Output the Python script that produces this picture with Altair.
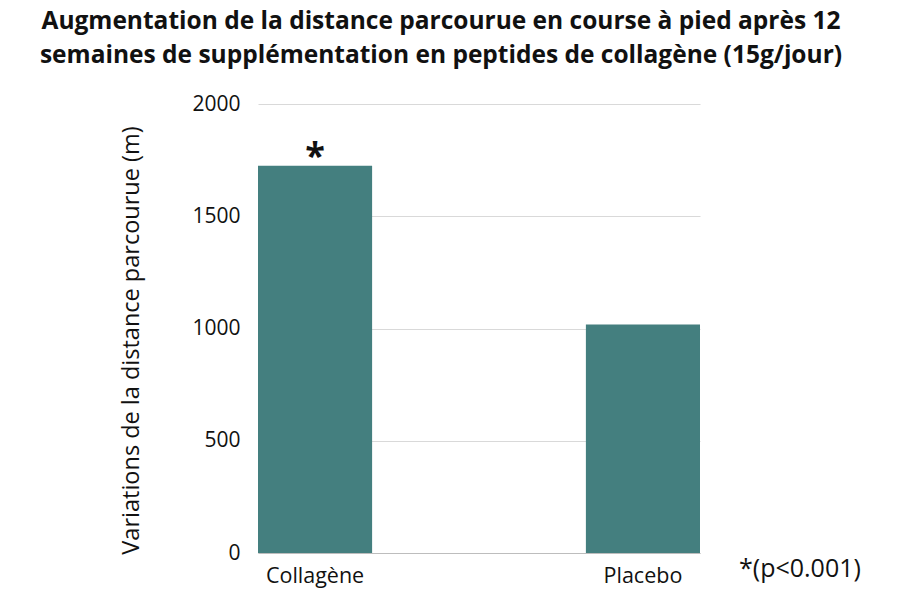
import altair as alt
import pandas as pd

groups = ["Collagène", "Placebo"]
values = [1725, 1018]
star_labels = ["*", ""]
note_text = "*(p<0.001)"
y_ticks = [0, 500, 1000, 1500, 2000]

df = pd.DataFrame({"groupe": groups, "valeur": values, "etoile": star_labels})
FONT = "Open Sans"

x_enc = alt.X("groupe:N", sort=groups,
              scale=alt.Scale(paddingInner=0.652, paddingOuter=0),
              axis=alt.Axis(title=None, labelAngle=0, labelFontSize=21.5, labelColor="#111111",
                            labelPadding=12, ticks=False, domainColor="#bdbdbd", domainWidth=1,
                            labelFont=FONT))
y_enc = alt.Y("valeur:Q", scale=alt.Scale(domain=[0, 2000], nice=False),
              axis=alt.Axis(title="Variations de la distance parcourue (m)", values=y_ticks,
                            format="d",
                            domain=False, ticks=False, labelFontSize=21, labelPadding=18,
                            labelColor="#111111", gridColor="#d9d9d9", titleFontSize=23.5,
                            titleFontWeight="normal", titleColor="#111111", titleFont=FONT,
                            labelFont=FONT, titleX=-127, titleY=236, titleAngle=-90,
                            titleAlign="center", titleBaseline="middle"))

bars = alt.Chart(df).mark_bar(color="#447f7f").encode(x=x_enc, y=y_enc)

stars = alt.Chart(df).mark_text(fontSize=36, fontWeight="bold", font=FONT, baseline="bottom",
                                dy=10, color="#111111").encode(
    x=alt.X("groupe:N", sort=groups), y="valeur:Q", text="etoile:N")

note = alt.Chart(pd.DataFrame({"t": [note_text]})).mark_text(
    fontSize=25, font=FONT, align="left", baseline="middle", color="#111111").encode(
    x=alt.value(481), y=alt.value(465), text="t:N")

chart = alt.layer(bars, stars, note).properties(
    width=442, height=449,
    autosize=alt.AutoSizeParams(type="none"),
    padding={"left": 250, "top": 96, "right": 192, "bottom": 39},
    title=alt.TitleParams(
        text=["Augmentation de la distance parcourue en course à pied après 12",
              "semaines de supplémentation en peptides de collagène (15g/jour)"],
        fontSize=24.5, fontWeight="bold", font=FONT, color="#111111", anchor="middle",
        frame="group", dx=-38, offset=25, lineHeight=34),
).configure_view(stroke=None).configure_axis(gridWidth=1)

chart.save("out.html", embed_options={"renderer": "svg", "actions": False})
